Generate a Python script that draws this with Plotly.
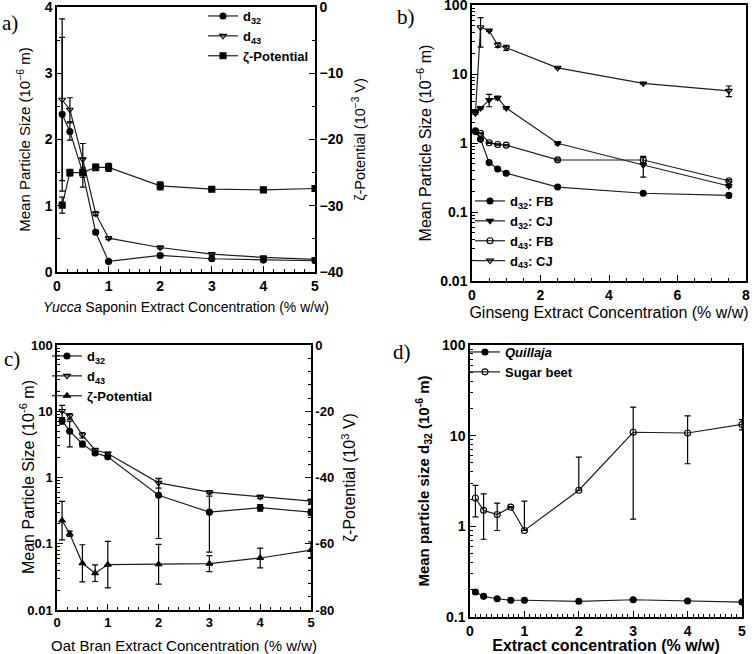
import plotly.graph_objects as go

# ---- panel a: Yucca saponin extract ----
conc_a = [0.1, 0.25, 0.5, 0.75, 1, 2, 3, 4, 5]
d32_a = [2.38, 2.12, 1.50, 0.60, 0.16, 0.25, 0.20, 0.18, 0.17]
d32_a_err = [1.16, 0.13, 0.22, 0.03, 0.02, 0.02, 0.02, 0.02, 0.02]
d43_a = [2.60, 2.45, 1.70, 0.88, 0.51, 0.37, 0.27, 0.22, 0.19]
d43_a_err = [1.22, 0.18, 0.24, 0.03, 0.02, 0.02, 0.02, 0.02, 0.02]
zeta_a = [-29.9, -25.0, -25.0, -24.2, -24.2, -27.0, -27.5, -27.6, -27.4]
zeta_a_err = [1.2, 0.5, 0.7, 0.5, 0.6, 0.6, 0.2, 0.2, 0.2]

# ---- panel b: ginseng extract (FB / CJ) ----
conc_b = [0.1, 0.25, 0.5, 0.75, 1, 2.5, 5, 7.5]
d32_fb = [1.5, 1.13, 0.52, 0.42, 0.365, 0.23, 0.187, 0.174]
d32_cj = [2.9, 3.2, 4.2, 4.5, 3.2, 0.99, 0.48, 0.238]
d32_cj_err = [0.1, 0.1, 0.85, 0.3, 0.1, 0.05, 0.16, 0.01]
d43_fb = [1.46, 1.38, 1.01, 0.95, 0.93, 0.57, 0.567, 0.284]
d43_fb_err = [0.02, 0.02, 0.02, 0.02, 0.02, 0.02, 0.05, 0.01]
d43_cj = [2.7, 47.5, 42.5, 26.3, 24.0, 12.3, 7.3, 5.7]
d43_cj_up = [0.1, 18, 1, 2, 2, 0.3, 0.2, 1.0]
d43_cj_dn = [0.1, 23, 1, 2, 2, 0.3, 0.2, 1.0]

# ---- panel c: oat bran extract ----
conc_c = [0.1, 0.25, 0.5, 0.75, 1, 2, 3, 4, 5]
d32_c = [7.2, 5.0, 3.2, 2.35, 2.05, 0.54, 0.30, 0.35, 0.30]
d32_c_err = [0.8, 2.1, 0.3, 0.15, 0.1, 0.42, 0.225, 0.04, 0.03]
d43_c = [10.1, 8.4, 4.35, 2.6, 2.3, 0.83, 0.60, 0.51, 0.44]
d43_c_err = [2.2, 0.8, 0.4, 0.15, 0.1, 0.14, 0.03, 0.03, 0.03]
zeta_c = [-53.0, -57.0, -65.9, -68.9, -66.3, -66.2, -66.0, -64.3, -61.9]
zeta_c_err = [5.8, 0.8, 5.6, 2.5, 7.0, 6.0, 2.4, 3.0, 2.5]

# ---- panel d: Quillaja vs sugar beet ----
conc_d = [0.1, 0.25, 0.5, 0.75, 1, 2, 3, 4, 5]
quillaja = [0.189, 0.169, 0.159, 0.153, 0.153, 0.149, 0.155, 0.150, 0.146]
sugar_beet = [2.05, 1.5, 1.35, 1.63, 0.90, 2.5, 10.9, 10.7, 13.3]
sugar_beet_up = [0.78, 0.78, 0.45, 0.02, 1.0, 3.3, 9.7, 5.8, 1.7]
sugar_beet_dn = [0.78, 0.78, 0.45, 0.02, 0.0, 0.0, 9.7, 5.8, 1.7]

W, H = 756, 654
FONT = 'Liberation Sans, Arial, sans-serif'
LINE = '#1e1e1e'


def px_x(a, b):
    return [a / W, b / W]


def px_y(top, bottom):
    return [1 - bottom / H, 1 - top / H]


def err(arr, minus=None):
    e = dict(type='data', array=arr, visible=True, color='black', thickness=1.2, width=3)
    if minus is not None:
        e['arrayminus'] = minus
    return e


def series(x, y, name, symbol, xa, ya, legend, error=None, size=6):
    return go.Scatter(x=x, y=y, name=name, mode='lines+markers', xaxis=xa, yaxis=ya,
                      legend=legend, line=dict(color=LINE, width=1.2),
                      marker=dict(symbol=symbol, size=size, color='black',
                                  line=dict(color='black', width=1.1)),
                      error_y=error)


fig = go.Figure()

# panel a
fig.add_trace(series(conc_a, d32_a, 'd<sub>32</sub>', 'circle', 'x', 'y', 'legend', err(d32_a_err)))
fig.add_trace(series(conc_a, d43_a, 'd<sub>43</sub>', 'triangle-down-open', 'x', 'y', 'legend', err(d43_a_err)))
fig.add_trace(series(conc_a, zeta_a, 'ζ-Potential', 'square', 'x', 'y2', 'legend', err(zeta_a_err)))

# panel b
fig.add_trace(series(conc_b, d32_fb, 'd<sub>32</sub>: FB', 'circle', 'x2', 'y3', 'legend2'))
fig.add_trace(series(conc_b, d32_cj, 'd<sub>32</sub>: CJ', 'triangle-down', 'x2', 'y3', 'legend2', err(d32_cj_err)))
fig.add_trace(series(conc_b, d43_fb, 'd<sub>43</sub>: FB', 'circle-open', 'x2', 'y3', 'legend2', err(d43_fb_err)))
fig.add_trace(series(conc_b, d43_cj, 'd<sub>43</sub>: CJ', 'triangle-down-open', 'x2', 'y3', 'legend2',
                     err(d43_cj_up, d43_cj_dn)))

# panel c
fig.add_trace(series(conc_c, d32_c, 'd<sub>32</sub>', 'circle', 'x3', 'y4', 'legend3', err(d32_c_err)))
fig.add_trace(series(conc_c, d43_c, 'd<sub>43</sub>', 'triangle-down-open', 'x3', 'y4', 'legend3', err(d43_c_err)))
fig.add_trace(series(conc_c, zeta_c, 'ζ-Potential', 'triangle-up', 'x3', 'y5', 'legend3', err(zeta_c_err)))

# panel d
fig.add_trace(series(conc_d, quillaja, '<i>Quillaja</i>', 'circle', 'x4', 'y6', 'legend4'))
fig.add_trace(series(conc_d, sugar_beet, 'Sugar beet', 'circle-open', 'x4', 'y6', 'legend4',
                     err(sugar_beet_up, sugar_beet_dn)))


def tfont(size):
    return dict(family=FONT, size=size, color='black', weight='bold')


base = dict(showline=True, linecolor='black', linewidth=1.5, ticks='inside', ticklen=6,
            tickcolor='black', tickwidth=1.2, showgrid=False, zeroline=False, automargin=False,
            ticklabeloverflow='allow')


def title(text, standoff, bold=False, size=14):
    return dict(text=text, standoff=standoff,
                font=dict(family=FONT, size=size, color='black', weight='bold' if bold else 'normal'))


def minor(**kw):
    return dict(ticks='inside', ticklen=3, tickcolor='black', **kw)


log_major = [0.01, 0.1, 1, 10, 100]
log_text = ['0.01', '0.1', '1', '10', '100']
log_minor = [m * 10 ** e for e in range(-2, 2) for m in range(2, 10)]

layout_axes = dict(
    # panel a
    xaxis=dict(base, domain=px_x(57, 315), anchor='y', range=[0, 5], dtick=1, mirror=True,
               tickfont=tfont(14), minor=minor(dtick=0.2),
               title=title('<i>Yucca</i> Saponin Extract Concentration (% w/w)', 10, size=14)),
    yaxis=dict(base, domain=px_y(7, 272), anchor='x', range=[0, 4], dtick=1, mirror=True,
               tickfont=tfont(14), minor=minor(dtick=0.5),
               title=title('Mean Particle Size (10<sup>−6</sup> m)', 10, size=15)),
    yaxis2=dict(base, domain=px_y(7, 272), anchor='x', overlaying='y', side='right', range=[-40, 0],
                dtick=10, tickfont=tfont(14), minor=minor(dtick=5),
                title=title('ζ-Potential (10<sup>−3</sup> V)', 12, size=14.5)),
    # panel b
    xaxis2=dict(base, domain=px_x(472, 746), anchor='y3', range=[0, 8], dtick=2, mirror=True,
                tickfont=tfont(14), minor=minor(dtick=0.5),
                title=title('Ginseng Extract Concentration (% w/w)', 5, size=16)),
    yaxis3=dict(base, domain=px_y(5, 281), anchor='x2', type='log', range=[-2, 2], mirror=True,
                tickvals=log_major, ticktext=log_text, tickfont=tfont(14),
                minor=minor(tickvals=log_minor),
                title=title('Mean Particle Size (10<sup>−6</sup> m)', 5, size=16)),
    # panel c
    xaxis3=dict(base, domain=px_x(57, 311), anchor='y4', range=[0, 5], dtick=1, mirror=True,
                tickfont=tfont(13), minor=minor(dtick=0.2),
                title=title('Oat Bran Extract Concentration (% w/w)', 15, size=15)),
    yaxis4=dict(base, domain=px_y(345, 610), anchor='x3', type='log', range=[-2, 2], mirror=True,
                tickvals=log_major, ticktext=log_text, tickfont=tfont(13),
                minor=minor(tickvals=log_minor)),
    yaxis5=dict(base, domain=px_y(345, 610), anchor='x3', overlaying='y4', side='right', range=[-80, 0],
                tickvals=[0, -20, -40, -60, -80], ticktext=['0', '-20', '-40', '-60', '-80'],
                tickfont=tfont(13), minor=minor(dtick=4),
                title=title('ζ-Potential (10<sup>3</sup> V)', 11, size=16)),
    # panel d
    xaxis4=dict(base, domain=px_x(470, 742), anchor='y6', range=[0, 5], dtick=1, mirror=True,
                tickfont=tfont(14), minor=minor(dtick=0.1),
                title=title('Extract concentration (% w/w)', 0, bold=True, size=16)),
    yaxis6=dict(base, domain=px_y(345, 617), anchor='x4', type='log', range=[-1, 2], mirror=True,
                tickvals=[0.1, 1, 10, 100], ticktext=['0.1', '1', '10', '100'], tickfont=tfont(14),
                minor=minor(tickvals=[m * 10 ** e for e in range(-1, 2) for m in range(2, 10)]),
                title=title('Mean particle size d<sub>32</sub> (10<sup>-6</sup> m)', 9, bold=True, size=15)),
)


def legend_at(x, y, size=13):
    return dict(x=x / W, y=1 - y / H, xanchor='left', yanchor='top', bgcolor='rgba(0,0,0,0)',
                font=dict(family=FONT, size=size, color='black', weight='bold'),
                itemwidth=30, tracegroupgap=0)


fig.update_layout(
    width=W, height=H,
    margin=dict(l=0, r=0, t=0, b=0, autoexpand=False),
    paper_bgcolor='white', plot_bgcolor='white',
    font=dict(family=FONT, color='black'),
    legend=legend_at(203, 1),
    legend2=legend_at(470, 186),
    legend3=legend_at(47, 341),
    legend4=legend_at(465, 337),
    **layout_axes,
)

# panel c left title sits tight against its tick labels, so place it by hand
fig.add_annotation(text='Mean Particle Size (10<sup>-6</sup> m)', textangle=-90,
                   x=27 / W, y=1 - 477 / H, xref='paper', yref='paper',
                   xanchor='center', yanchor='middle', showarrow=False,
                   font=dict(family=FONT, size=16, color='black'))

# panel letters
serif = dict(family='Liberation Serif, Times New Roman, serif', size=21, color='black')
for letter, x, y in [('a)', 0, 23), ('b)', 395, 17), ('c)', 2, 359), ('d)', 391, 352)]:
    fig.add_annotation(text=letter, x=x / W, y=1 - y / H, xref='paper', yref='paper',
                       xanchor='left', yanchor='middle', showarrow=False, font=serif)

# the page body has a default 8px margin; drop it so the figure sits at the window origin
fig.write_html("out.html", config={'displayModeBar': False},
               post_script="document.body.style.margin='0px';")
